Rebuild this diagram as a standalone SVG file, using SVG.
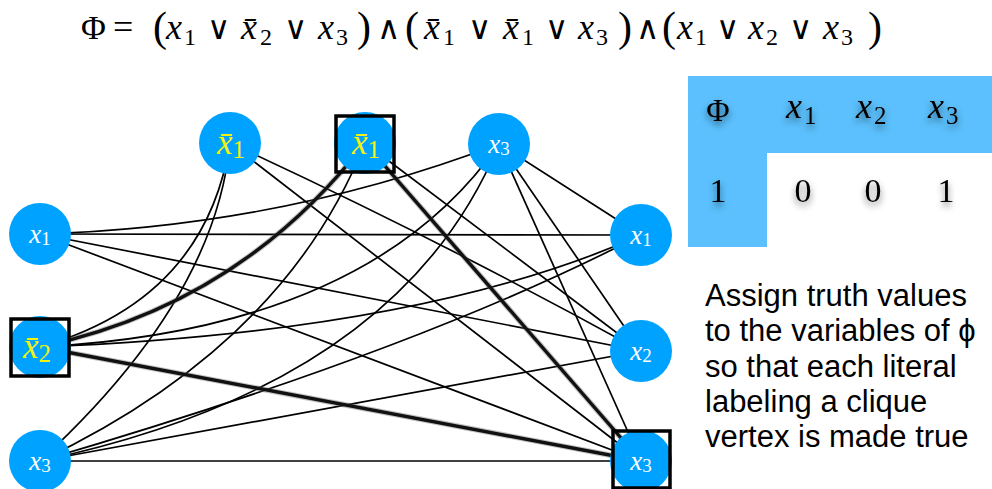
<svg xmlns="http://www.w3.org/2000/svg" width="992" height="489" viewBox="0 0 992 489">
<defs>
<style>
.e{fill:none;stroke:#000;stroke-width:1.7}
.t{fill:none;stroke:#111;stroke-width:3.4}
.th{fill:none;stroke:#666;stroke-width:5.5;opacity:.4}
.n{fill:#00A2FF}
.box{fill:none;stroke:#000;stroke-width:3.5}
.lw{font-family:"Liberation Serif","DejaVu Serif",serif;fill:#fff}
.ly{font-family:"Liberation Serif","DejaVu Serif",serif;fill:#F3F30C}
.f{font-family:"Liberation Serif","DejaVu Serif",serif;fill:#000}
.i{font-style:italic}
.op{font-family:"DejaVu Sans","DejaVu Serif",sans-serif;font-weight:200;font-size:32px}
.s{font-family:"Liberation Sans",Arial,sans-serif;font-size:31px;fill:#000}
</style>
<filter id="sh" x="-60%" y="-60%" width="220%" height="220%">
<feGaussianBlur in="SourceAlpha" stdDeviation="3.5"/>
<feOffset dy="4" result="b"/>
<feComponentTransfer in="b" result="c"><feFuncA type="linear" slope="0.55"/></feComponentTransfer>
<feMerge><feMergeNode in="c"/><feMergeNode in="SourceGraphic"/></feMerge>
</filter>
</defs>

<g id="formula" class="f" font-size="36">
<text y="39"><tspan x="81" font-size="34">Φ</tspan><tspan x="113" font-size="36">=</tspan><tspan x="153" font-size="42" y="41">(</tspan><tspan x="166" y="39" class="i">x</tspan><tspan x="184" y="45" font-size="24">1</tspan><tspan x="207" y="39" class="op">∨</tspan><tspan x="241" y="39" class="i">x̄</tspan><tspan x="260" y="45" font-size="24">2</tspan><tspan x="284" y="39" class="op">∨</tspan><tspan x="318" y="39" class="i">x</tspan><tspan x="336" y="45" font-size="24">3</tspan><tspan x="357" font-size="42" y="41">)</tspan><tspan x="377" y="39" class="op">∧</tspan><tspan x="405" font-size="42" y="41">(</tspan><tspan x="424" y="39" class="i">x̄</tspan><tspan x="443" y="45" font-size="24">1</tspan><tspan x="468" y="39" class="op">∨</tspan><tspan x="503" y="39" class="i">x̄</tspan><tspan x="522" y="45" font-size="24">1</tspan><tspan x="545" y="39" class="op">∨</tspan><tspan x="578" y="39" class="i">x</tspan><tspan x="596" y="45" font-size="24">3</tspan><tspan x="618" font-size="42" y="41">)</tspan><tspan x="636" y="39" class="op">∧</tspan><tspan x="662" font-size="42" y="41">(</tspan><tspan x="677" y="39" class="i">x</tspan><tspan x="695" y="45" font-size="24">1</tspan><tspan x="716" y="39" class="op">∨</tspan><tspan x="748" y="39" class="i">x</tspan><tspan x="766" y="45" font-size="24">2</tspan><tspan x="789" y="39" class="op">∨</tspan><tspan x="823" y="39" class="i">x</tspan><tspan x="841" y="45" font-size="24">3</tspan><tspan x="868" font-size="42" y="41">)</tspan></text>
</g>

<g id="edges">
<path class="e" d="M40,234 L641,235"/>
<path class="e" d="M40,234 L641,351"/>
<path class="e" d="M40,234 L641,461"/>
<path class="e" d="M40,347 Q426,332 641,235"/>
<path class="e" d="M40,461 Q420,350 641,235"/>
<path class="e" d="M40,461 L641,351"/>
<path class="e" d="M40,461 L641,461"/>
<path class="e" d="M40,234 Q281,227 499,144"/>
<path class="e" d="M40,347 Q205,300 230,143"/>
<path class="e" d="M40,347 Q370,330 499,144"/>
<path class="e" d="M40,461 Q215,300 230,143"/>
<path class="e" d="M40,461 Q285,345 365,143"/>
<path class="e" d="M40,461 Q400,385 499,144"/>
<path class="e" d="M230,143 Q440,240 641,351"/>
<path class="e" d="M230,143 L641,461"/>
<path class="e" d="M365,143 L641,351"/>
<path class="e" d="M499,144 L641,235"/>
<path class="e" d="M499,144 L641,351"/>
<path class="e" d="M499,144 L641,461"/>
<path class="th" d="M40,347 Q240,305 365,143"/>
<path class="th" d="M40,347 L641,461"/>
<path class="th" d="M365,143 L641,461"/>
<path class="t" d="M40,347 Q240,305 365,143"/>
<path class="t" d="M40,347 L641,461"/>
<path class="t" d="M365,143 L641,461"/>
</g>

<g id="n-top-x1bar-a">
<circle class="n" cx="230" cy="143" r="31"/>
<text class="ly" x="231" y="154" text-anchor="middle"><tspan class="i" font-size="35">x̄</tspan><tspan font-size="25" dy="4">1</tspan></text>
</g>
<g id="n-top-x1bar-b">
<circle class="n" cx="365" cy="143" r="31"/>
<text class="ly" x="366" y="154" text-anchor="middle"><tspan class="i" font-size="35">x̄</tspan><tspan font-size="25" dy="4">1</tspan></text>
<rect class="box" x="336" y="116" width="58" height="56"/>
</g>
<g id="n-top-x3">
<circle class="n" cx="499" cy="144" r="31"/>
<text class="lw" x="499" y="153" text-anchor="middle"><tspan class="i" font-size="27">x</tspan><tspan font-size="19" dy="2">3</tspan></text>
</g>
<g id="n-left-x1">
<circle class="n" cx="40" cy="234" r="31"/>
<text class="lw" x="40" y="243" text-anchor="middle"><tspan class="i" font-size="27">x</tspan><tspan font-size="19" dy="2">1</tspan></text>
</g>
<g id="n-left-x2bar">
<circle class="n" cx="40" cy="347" r="31"/>
<text class="ly" x="37" y="358" text-anchor="middle"><tspan class="i" font-size="35">x̄</tspan><tspan font-size="25" dy="4">2</tspan></text>
<rect class="box" x="11" y="319" width="58" height="57"/>
</g>
<g id="n-left-x3">
<circle class="n" cx="40" cy="461" r="31"/>
<text class="lw" x="40" y="470" text-anchor="middle"><tspan class="i" font-size="27">x</tspan><tspan font-size="19" dy="2">3</tspan></text>
</g>
<g id="n-right-x1">
<circle class="n" cx="641" cy="235" r="31"/>
<text class="lw" x="641" y="244" text-anchor="middle"><tspan class="i" font-size="27">x</tspan><tspan font-size="19" dy="2">1</tspan></text>
</g>
<g id="n-right-x2">
<circle class="n" cx="641" cy="351" r="31"/>
<text class="lw" x="641" y="360" text-anchor="middle"><tspan class="i" font-size="27">x</tspan><tspan font-size="19" dy="2">2</tspan></text>
</g>
<g id="n-right-x3">
<circle class="n" cx="641" cy="461" r="31"/>
<text class="lw" x="641" y="470" text-anchor="middle"><tspan class="i" font-size="27">x</tspan><tspan font-size="19" dy="2">3</tspan></text>
<rect class="box" x="613" y="431" width="57" height="57"/>
</g>

<g id="table">
<path d="M688,76 H992 V153 H767 V247 H688 Z" fill="#5BC0FD"/>
<g class="f" filter="url(#sh)">
<text x="718" y="121" font-size="32" text-anchor="middle">Φ</text>
<text y="118"><tspan x="786" class="i" font-size="36">x</tspan><tspan x="804" y="124" font-size="25">1</tspan></text>
<text y="118"><tspan x="856" class="i" font-size="36">x</tspan><tspan x="874" y="124" font-size="25">2</tspan></text>
<text y="118"><tspan x="928" class="i" font-size="36">x</tspan><tspan x="946" y="124" font-size="25">3</tspan></text>
<text x="718" y="202" font-size="34" text-anchor="middle">1</text>
<text x="803" y="202" font-size="34" text-anchor="middle">0</text>
<text x="873" y="202" font-size="34" text-anchor="middle">0</text>
<text x="946" y="202" font-size="34" text-anchor="middle">1</text>
</g>
</g>

<g id="note" class="s">
<text x="705" y="306">Assign truth values</text>
<text x="705" y="341">to the variables of ϕ</text>
<text x="705" y="377">so that each literal</text>
<text x="705" y="412">labeling a clique</text>
<text x="705" y="447">vertex is made true</text>
</g>
</svg>
